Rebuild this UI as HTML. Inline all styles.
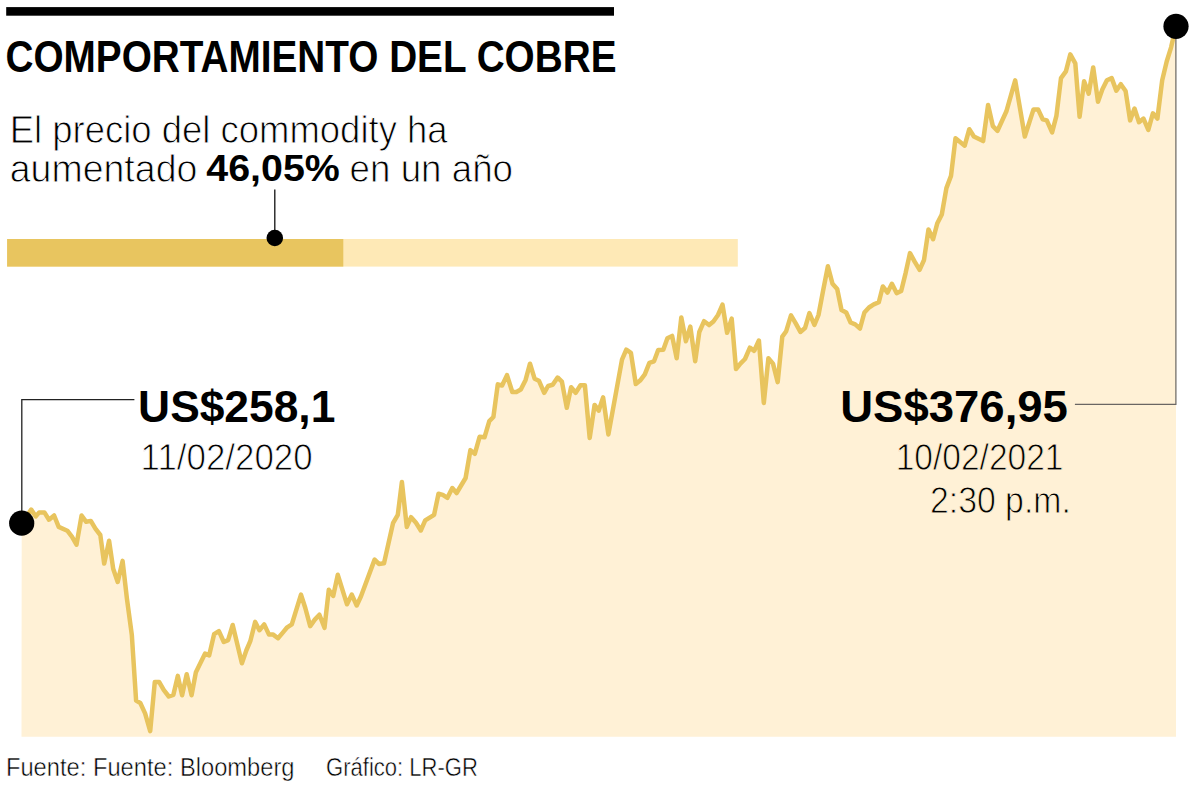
<!DOCTYPE html>
<html lang="es">
<head>
<meta charset="utf-8">
<title>Comportamiento del cobre</title>
<style>
html,body{margin:0;padding:0;background:#fff;}
body{width:1200px;height:785px;overflow:hidden;position:relative;font-family:"Liberation Sans",sans-serif;}
svg{position:absolute;left:0;top:0;display:block;}
text{font-family:"Liberation Sans",sans-serif;fill:#000;}
.b{font-weight:bold;}
.l{fill:#000;stroke:#fff;stroke-width:0.9px;stroke-linejoin:round;}
.s{stroke-width:0.5px;}
.c{stroke:#FFF1D6;}
</style>
</head>
<body>
<svg width="1200" height="785" viewBox="0 0 1200 785">
  <!-- area chart -->
  <path d="M21.7,523.2 L31.2,509.6 L35.8,516.4 L39.2,512.4 L44.4,512.4 L49.0,519.7 L54.1,515.5 L58.7,526.9 L67.3,530.7 L71.9,536.7 L76.5,544.7 L81.6,515.5 L86.2,521.8 L90.8,520.9 L95.4,528.7 L100.3,535.0 L104.2,563.6 L109.1,540.7 L113.2,568.8 L117.7,581.9 L122.6,560.9 L126.9,598.4 L131.8,634.7 L136.1,700.6 L140.3,703.0 L145.1,713.4 L150.2,731.1 L154.8,681.9 L159.1,681.9 L163.7,689.9 L168.8,696.5 L173.4,694.8 L177.8,675.9 L182.1,695.2 L186.7,674.2 L191.6,695.2 L195.9,672.2 L205.1,653.6 L209.2,655.3 L214.1,634.2 L218.9,631.1 L223.8,642.0 L228.1,640.1 L232.7,625.0 L241.9,663.3 L246.3,650.5 L250.4,640.8 L255.2,621.9 L259.4,630.2 L264.2,624.4 L269.0,634.6 L273.2,634.6 L278.0,638.2 L282.8,632.6 L287.2,627.3 L291.8,624.4 L301.0,594.6 L305.3,608.0 L310.2,626.1 L314.8,619.6 L319.4,614.7 L324.5,627.8 L328.8,589.8 L333.2,595.9 L337.8,574.8 L347.0,604.3 L351.8,594.6 L356.7,605.5 L361.0,596.3 L374.6,559.6 L378.9,563.9 L384.0,563.2 L393.0,523.2 L397.8,514.8 L401.9,482.1 L406.8,526.9 L411.1,517.2 L416.0,522.8 L420.8,530.5 L425.2,520.3 L434.1,514.8 L438.5,493.7 L442.8,494.9 L447.4,497.8 L452.3,488.1 L456.6,493.0 L465.6,478.0 L470.4,450.1 L474.8,453.8 L479.6,436.8 L484.5,437.3 L489.3,421.1 L493.4,417.0 L497.8,384.3 L502.1,385.5 L507.0,375.1 L512.3,392.0 L516.4,392.0 L520.8,389.6 L525.6,379.9 L530.0,363.7 L534.6,378.7 L538.9,380.7 L544.2,392.8 L548.1,386.0 L552.7,384.8 L557.6,377.5 L561.9,381.6 L566.8,407.8 L571.1,387.2 L575.7,392.8 L580.5,385.3 L584.9,385.3 L589.7,438.0 L594.6,404.9 L598.7,410.7 L603.1,397.4 L608.4,434.4 L622.0,359.7 L626.3,349.7 L630.9,352.8 L635.8,384.1 L640.1,380.6 L644.8,374.4 L649.4,362.8 L654.0,361.3 L658.2,350.0 L663.3,349.7 L667.4,338.2 L672.1,335.9 L676.7,358.2 L681.3,317.4 L685.9,341.2 L690.3,326.6 L695.2,361.3 L699.3,332.0 L704.1,321.2 L709.1,325.1 L713.4,321.5 L718.0,315.0 L722.5,304.6 L727.1,332.8 L731.7,318.6 L736.0,369.0 L740.4,363.6 L745.0,359.0 L749.9,347.7 L754.2,350.8 L758.9,340.5 L763.8,402.9 L768.4,358.2 L773.0,363.6 L777.7,382.1 L782.3,336.6 L786.2,331.2 L791.0,315.4 L795.6,323.1 L800.4,331.9 L805.0,328.1 L809.4,313.1 L814.4,325.0 L818.5,315.0 L823.1,290.6 L827.9,266.2 L832.5,283.8 L837.2,289.0 L841.5,310.0 L846.2,312.5 L850.6,322.5 L855.2,324.4 L860.0,328.5 L864.4,312.5 L869.0,307.5 L873.8,304.4 L878.8,302.2 L882.8,286.5 L887.5,292.5 L891.9,283.8 L896.6,293.1 L901.2,291.0 L905.6,273.1 L910.0,253.1 L914.8,261.9 L919.6,269.8 L924.0,260.0 L928.5,229.4 L933.1,239.2 L937.2,223.6 L941.8,214.5 L946.4,188.1 L951.0,175.9 L955.5,138.3 L964.7,145.7 L969.3,129.2 L973.9,136.5 L983.1,141.1 L988.1,104.9 L992.9,126.2 L997.5,130.8 L1006.4,111.3 L1015.2,80.3 L1024.8,136.5 L1033.5,109.4 L1038.1,109.4 L1042.7,119.3 L1046.8,120.4 L1052.1,132.4 L1056.4,115.9 L1061.0,78.1 L1065.9,71.4 L1070.3,54.4 L1075.3,63.3 L1079.6,116.8 L1084.1,81.2 L1088.7,93.6 L1093.2,67.4 L1098.0,101.7 L1102.4,89.2 L1106.9,80.3 L1111.7,78.1 L1116.3,90.6 L1120.8,84.2 L1125.6,91.0 L1130.1,120.4 L1134.5,108.5 L1139.0,122.2 L1143.5,118.6 L1148.3,129.9 L1152.9,113.3 L1157.4,118.6 L1162.2,80.3 L1166.7,61.5 L1171.1,47.3 L1175.9,26.4 L1176,26.4 L1176,736.8 L21.5,736.8 Z" fill="#FFF1D6"/>
  <path d="M21.7,523.2 L31.2,509.6 L35.8,516.4 L39.2,512.4 L44.4,512.4 L49.0,519.7 L54.1,515.5 L58.7,526.9 L67.3,530.7 L71.9,536.7 L76.5,544.7 L81.6,515.5 L86.2,521.8 L90.8,520.9 L95.4,528.7 L100.3,535.0 L104.2,563.6 L109.1,540.7 L113.2,568.8 L117.7,581.9 L122.6,560.9 L126.9,598.4 L131.8,634.7 L136.1,700.6 L140.3,703.0 L145.1,713.4 L150.2,731.1 L154.8,681.9 L159.1,681.9 L163.7,689.9 L168.8,696.5 L173.4,694.8 L177.8,675.9 L182.1,695.2 L186.7,674.2 L191.6,695.2 L195.9,672.2 L205.1,653.6 L209.2,655.3 L214.1,634.2 L218.9,631.1 L223.8,642.0 L228.1,640.1 L232.7,625.0 L241.9,663.3 L246.3,650.5 L250.4,640.8 L255.2,621.9 L259.4,630.2 L264.2,624.4 L269.0,634.6 L273.2,634.6 L278.0,638.2 L282.8,632.6 L287.2,627.3 L291.8,624.4 L301.0,594.6 L305.3,608.0 L310.2,626.1 L314.8,619.6 L319.4,614.7 L324.5,627.8 L328.8,589.8 L333.2,595.9 L337.8,574.8 L347.0,604.3 L351.8,594.6 L356.7,605.5 L361.0,596.3 L374.6,559.6 L378.9,563.9 L384.0,563.2 L393.0,523.2 L397.8,514.8 L401.9,482.1 L406.8,526.9 L411.1,517.2 L416.0,522.8 L420.8,530.5 L425.2,520.3 L434.1,514.8 L438.5,493.7 L442.8,494.9 L447.4,497.8 L452.3,488.1 L456.6,493.0 L465.6,478.0 L470.4,450.1 L474.8,453.8 L479.6,436.8 L484.5,437.3 L489.3,421.1 L493.4,417.0 L497.8,384.3 L502.1,385.5 L507.0,375.1 L512.3,392.0 L516.4,392.0 L520.8,389.6 L525.6,379.9 L530.0,363.7 L534.6,378.7 L538.9,380.7 L544.2,392.8 L548.1,386.0 L552.7,384.8 L557.6,377.5 L561.9,381.6 L566.8,407.8 L571.1,387.2 L575.7,392.8 L580.5,385.3 L584.9,385.3 L589.7,438.0 L594.6,404.9 L598.7,410.7 L603.1,397.4 L608.4,434.4 L622.0,359.7 L626.3,349.7 L630.9,352.8 L635.8,384.1 L640.1,380.6 L644.8,374.4 L649.4,362.8 L654.0,361.3 L658.2,350.0 L663.3,349.7 L667.4,338.2 L672.1,335.9 L676.7,358.2 L681.3,317.4 L685.9,341.2 L690.3,326.6 L695.2,361.3 L699.3,332.0 L704.1,321.2 L709.1,325.1 L713.4,321.5 L718.0,315.0 L722.5,304.6 L727.1,332.8 L731.7,318.6 L736.0,369.0 L740.4,363.6 L745.0,359.0 L749.9,347.7 L754.2,350.8 L758.9,340.5 L763.8,402.9 L768.4,358.2 L773.0,363.6 L777.7,382.1 L782.3,336.6 L786.2,331.2 L791.0,315.4 L795.6,323.1 L800.4,331.9 L805.0,328.1 L809.4,313.1 L814.4,325.0 L818.5,315.0 L823.1,290.6 L827.9,266.2 L832.5,283.8 L837.2,289.0 L841.5,310.0 L846.2,312.5 L850.6,322.5 L855.2,324.4 L860.0,328.5 L864.4,312.5 L869.0,307.5 L873.8,304.4 L878.8,302.2 L882.8,286.5 L887.5,292.5 L891.9,283.8 L896.6,293.1 L901.2,291.0 L905.6,273.1 L910.0,253.1 L914.8,261.9 L919.6,269.8 L924.0,260.0 L928.5,229.4 L933.1,239.2 L937.2,223.6 L941.8,214.5 L946.4,188.1 L951.0,175.9 L955.5,138.3 L964.7,145.7 L969.3,129.2 L973.9,136.5 L983.1,141.1 L988.1,104.9 L992.9,126.2 L997.5,130.8 L1006.4,111.3 L1015.2,80.3 L1024.8,136.5 L1033.5,109.4 L1038.1,109.4 L1042.7,119.3 L1046.8,120.4 L1052.1,132.4 L1056.4,115.9 L1061.0,78.1 L1065.9,71.4 L1070.3,54.4 L1075.3,63.3 L1079.6,116.8 L1084.1,81.2 L1088.7,93.6 L1093.2,67.4 L1098.0,101.7 L1102.4,89.2 L1106.9,80.3 L1111.7,78.1 L1116.3,90.6 L1120.8,84.2 L1125.6,91.0 L1130.1,120.4 L1134.5,108.5 L1139.0,122.2 L1143.5,118.6 L1148.3,129.9 L1152.9,113.3 L1157.4,118.6 L1162.2,80.3 L1166.7,61.5 L1171.1,47.3 L1175.9,26.4" fill="none" stroke="#E8C45E" stroke-width="4.5" stroke-linejoin="round" stroke-linecap="round"/>

  <!-- top rule -->
  <rect x="6.2" y="7.1" width="607.8" height="8.6" fill="#000"/>

  <!-- progress bar -->
  <rect x="7.1" y="239" width="730.7" height="27.6" fill="#FEE9B6"/>
  <rect x="7.1" y="239" width="336.2" height="27.6" fill="#E8C55F"/>
  <line x1="274.8" y1="189.6" x2="274.8" y2="238" stroke="#111" stroke-width="1.3"/>
  <circle cx="274.8" cy="238.0" r="8.3" fill="#000"/>

  <!-- left callout -->
  <path d="M134.4,399.6 H21.8 V523" fill="none" stroke="#222" stroke-width="1.3"/>
  <circle cx="21.7" cy="523.2" r="12.6" fill="#000"/>

  <!-- right callout -->
  <path d="M1074.9,404.45 H1175.9 V26" fill="none" stroke="#6A6663" stroke-width="1.2"/>
  <circle cx="1176" cy="26.3" r="12.6" fill="#000"/>

  <!-- text -->
  <text class="b" x="5.51" y="71.6" font-size="44" textLength="610.97" lengthAdjust="spacingAndGlyphs">COMPORTAMIENTO DEL COBRE</text>
  <text class="l" x="9.67" y="142.5" font-size="38.5" textLength="437.94" lengthAdjust="spacingAndGlyphs">El precio del commodity ha</text>
  <text class="l" x="9.74" y="182.1" font-size="38.5" textLength="187.60" lengthAdjust="spacingAndGlyphs">aumentado</text>
  <text class="b" x="206.27" y="181.4" font-size="36.6" textLength="133.57" lengthAdjust="spacingAndGlyphs">46,05%</text>
  <text class="l" x="349.62" y="182.1" font-size="38.5" textLength="163.38" lengthAdjust="spacingAndGlyphs">en un año</text>
  <text class="b" x="138.11" y="422.0" font-size="44.8" textLength="197.24" lengthAdjust="spacingAndGlyphs">US$258,1</text>
  <text class="l" x="140.59" y="469.9" font-size="37.3" textLength="172.12" lengthAdjust="spacingAndGlyphs">11/02/2020</text>
  <text class="b" x="840.25" y="421.7" font-size="44.8" textLength="227.68" lengthAdjust="spacingAndGlyphs">US$376,95</text>
  <text class="l c" x="895.67" y="469.7" font-size="37.3" textLength="167.85" lengthAdjust="spacingAndGlyphs">10/02/2021</text>
  <text class="l c" x="929.96" y="513.0" font-size="37.0" textLength="140.85" lengthAdjust="spacingAndGlyphs">2:30 p.m.</text>
  <text class="l s" x="5.93" y="775.8" font-size="25.2" textLength="288.65" lengthAdjust="spacingAndGlyphs">Fuente: Fuente: Bloomberg</text>
  <text class="l s" x="326.12" y="775.8" font-size="25.2" textLength="151.78" lengthAdjust="spacingAndGlyphs">Gráfico: LR-GR</text>
</svg>
</body>
</html>
